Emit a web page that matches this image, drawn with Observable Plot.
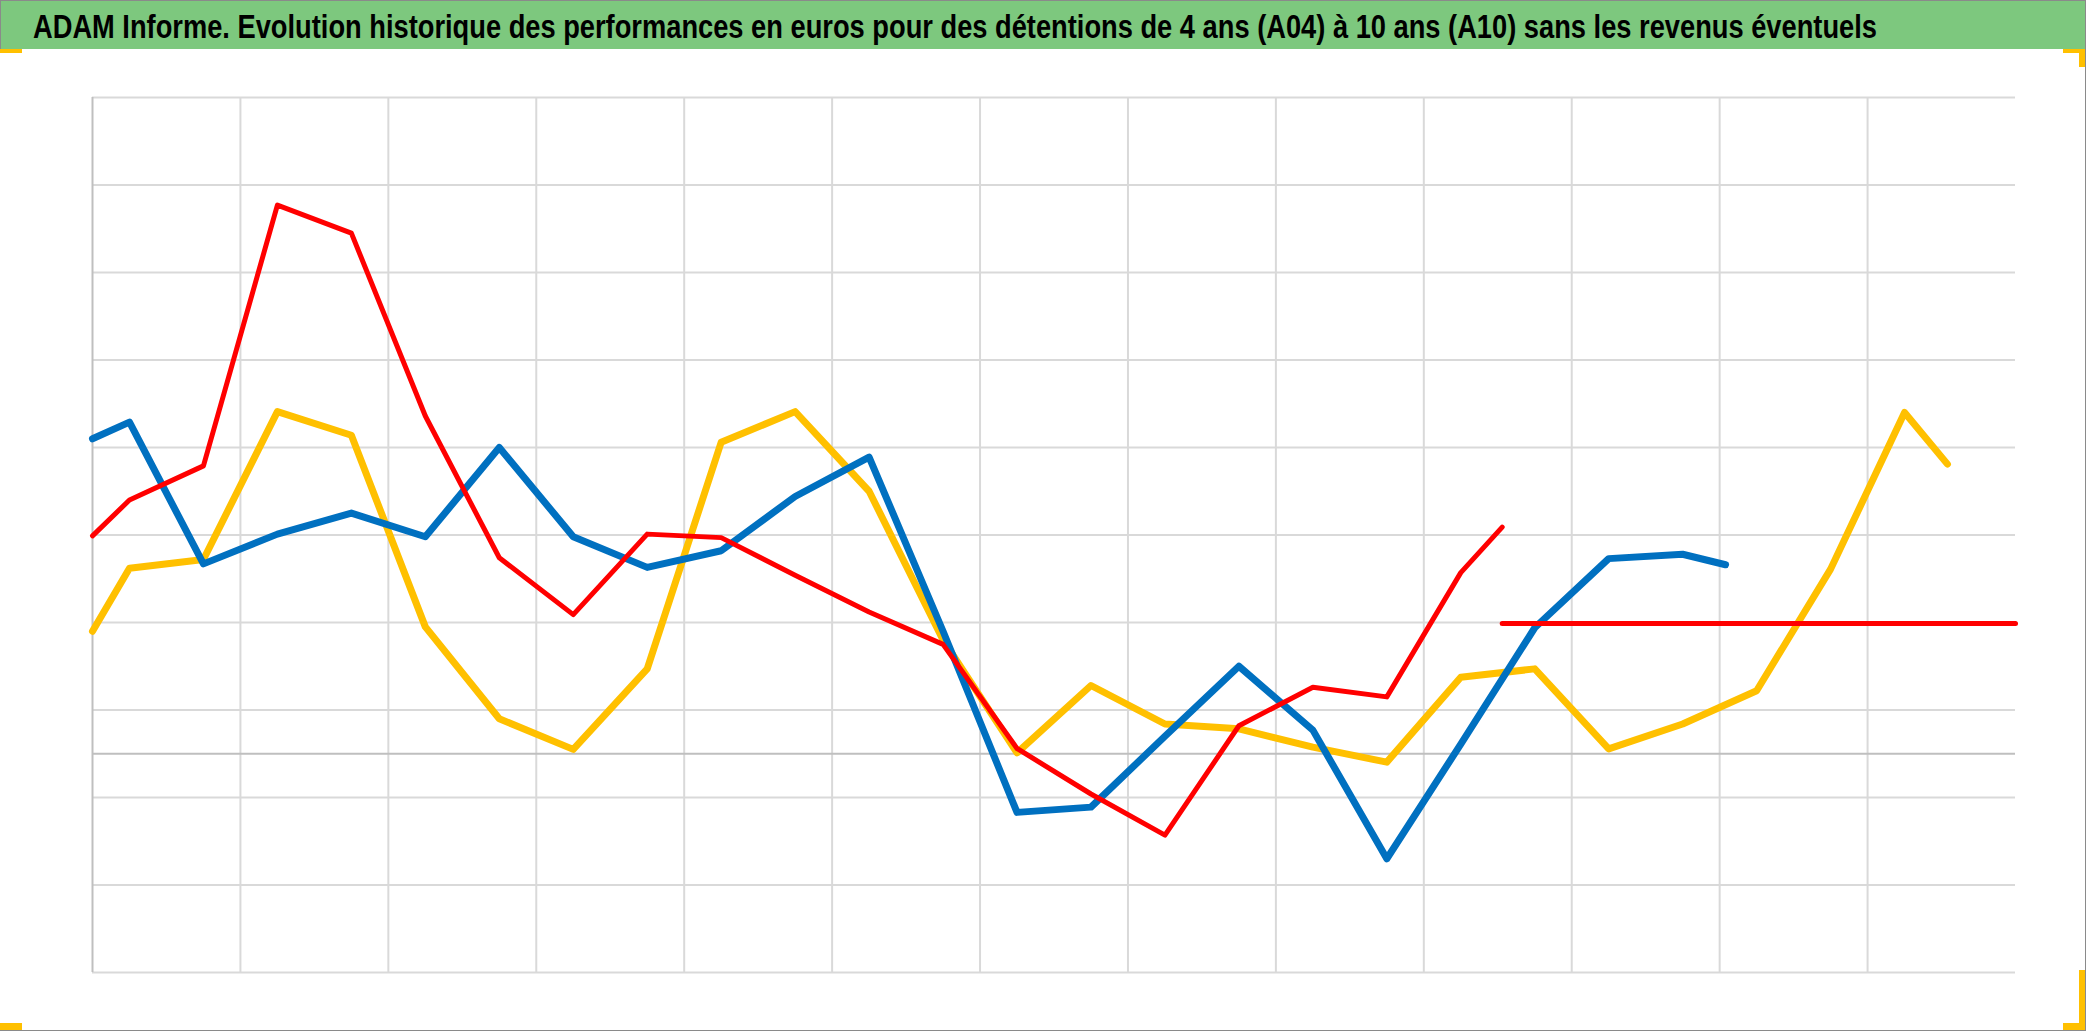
<!DOCTYPE html>
<html>
<head>
<meta charset="utf-8">
<script src="https://cdn.jsdelivr.net/npm/d3@7"></script>
<script src="https://cdn.jsdelivr.net/npm/@observablehq/plot@0.6"></script>
<style>
  html, body { margin: 0; padding: 0; background: #fff; }
  #page { position: relative; width: 2086px; height: 1031px; overflow: hidden; background: #fff; }
  #titlebar { position: absolute; left: 0; top: 0; width: 2085px; height: 49px; background: #7dc87e;
              border-top: 1px solid #8a8a8a; border-left: 1px solid #8a8a8a; box-sizing: border-box; }
  #title { position: absolute; left: 33px; top: 10px; white-space: nowrap; font-family: "Liberation Sans Narrow", "Liberation Sans", Arial, sans-serif;
           font-weight: bold; font-size: 33px; line-height: 33px; color: #000; transform-origin: 0 0; }
  #chart { position: absolute; left: 0; top: 50px; }
  .hnd { position: absolute; background: #ffc000; }
  .brd { position: absolute; background: #8a8a8a; }
</style>
</head>
<body>
<div id="page">
  <div id="titlebar"></div>
  <div id="title">ADAM Informe. Evolution historique des performances en euros pour des détentions de 4 ans (A04) à 10 ans (A10) sans les revenus éventuels</div>
  <div id="chart"></div>
  <div class="brd" style="left:2085px;top:0;width:1px;height:1031px"></div>
  <div class="brd" style="left:0;top:1030px;width:2086px;height:1px"></div>
  <div class="hnd" style="left:0;top:49px;width:22px;height:4px"></div>
  <div class="hnd" style="left:2063px;top:49px;width:22px;height:4px"></div>
  <div class="hnd" style="left:2079px;top:49px;width:6px;height:18px"></div>
  <div class="hnd" style="left:0;top:1023px;width:22px;height:7px"></div>
  <div class="hnd" style="left:2063px;top:1023px;width:22px;height:7px"></div>
  <div class="hnd" style="left:2079px;top:970px;width:6px;height:60px"></div>
</div>
<script>
// Semester positions (in years from the start of the axis)
const periods = [0, 0.25, 0.75, 1.25, 1.75, 2.25, 2.75, 3.25, 3.75, 4.25, 4.75, 5.25, 5.75,
                 6.25, 6.75, 7.25, 7.75, 8.25, 8.75, 9.25, 9.75, 10.25, 10.75, 11.25, 11.75, 12.25];

// Yellow series (shortest holding)
const yellowValues = [14.0, 21.2, 22.2, 39.1, 36.4, 14.5, 4.0, 0.5, 9.7, 35.6, 39.1, 30.0, 13.0,
                      0.1, 7.8, 3.4, 2.85, 0.75, -0.96, 8.75, 9.7, 0.56, 3.4, 7.2, 21.1, 39.0];
const yellowLast = { t: 12.54, v: 33.1 };

// Blue series
const blueValues = [36.0, 37.9, 21.7, 25.1, 27.5, 24.8, 35.0, 24.8, 21.3, 23.2, 29.4, 33.9, 14.0,
                    -6.7, -6.1, 2.0, 10.0, 2.7, -12.0, 1.1, 14.4, 22.3, 22.8];
const blueLast = { t: 11.04, v: 21.6 };

// Red series (longest holding)
const redValues = [24.9, 29.0, 32.9, 62.7, 59.5, 38.6, 22.4, 15.9, 25.1, 24.7, 20.4, 16.2, 12.5,
                   0.6, -4.6, -9.3, 3.2, 7.6, 6.5, 20.7];
const redLast = { t: 9.53, v: 25.9 };

// Red flat level
const redFlatT = [9.53, 13];
const redFlatV = [14.9, 14.9];

// Axis / grid
const xTicks = [0, 1, 2, 3, 4, 5, 6, 7, 8, 9, 10, 11, 12, 13];
const yTicks = [-25, -15, -5, 5, 15, 25, 35, 45, 55, 65, 75];

function build(vals, last) {
  const rows = vals.map((v, i) => ({ t: periods[i], v }));
  if (last) rows.push({ t: last.t, v: last.v });
  return rows;
}
const yellow = build(yellowValues, yellowLast);
const blue = build(blueValues, blueLast);
const red = build(redValues, redLast);
const redFlat = redFlatT.map((t, i) => ({ t, v: redFlatV[i] }));

const chart = Plot.plot({
  width: 2086,
  height: 981,
  marginLeft: 92,
  marginRight: 71,
  marginTop: 47,
  marginBottom: 59,
  x: { domain: [0, 13], axis: null },
  y: { domain: [-25, 75], axis: null },
  style: { background: "transparent", overflow: "visible" },
  marks: [
    Plot.ruleX(xTicks.slice(1, 13), { stroke: "#d9d9d9", strokeWidth: 2 }),
    Plot.ruleY(yTicks, { stroke: "#d9d9d9", strokeWidth: 2 }),
    Plot.ruleY([0], { stroke: "#bfbfbf", strokeWidth: 2 }),
    Plot.ruleX([0], { stroke: "#bfbfbf", strokeWidth: 2 }),
    Plot.line(yellow, { x: "t", y: "v", stroke: "#ffc000", strokeWidth: 7, strokeLinejoin: "round", strokeLinecap: "round" }),
    Plot.line(blue, { x: "t", y: "v", stroke: "#0070c0", strokeWidth: 7, strokeLinejoin: "round", strokeLinecap: "round" }),
    Plot.line(red, { x: "t", y: "v", stroke: "#ff0000", strokeWidth: 5, strokeLinejoin: "round", strokeLinecap: "round" }),
    Plot.line(redFlat, { x: "t", y: "v", stroke: "#ff0000", strokeWidth: 5, strokeLinecap: "round" })
  ]
});
document.getElementById("chart").appendChild(chart);

// stretch title to the reference width
const title = document.getElementById("title");
const w = title.getBoundingClientRect().width;
title.style.transform = `scaleX(${1844 / w})`;
</script>
</body>
</html>
